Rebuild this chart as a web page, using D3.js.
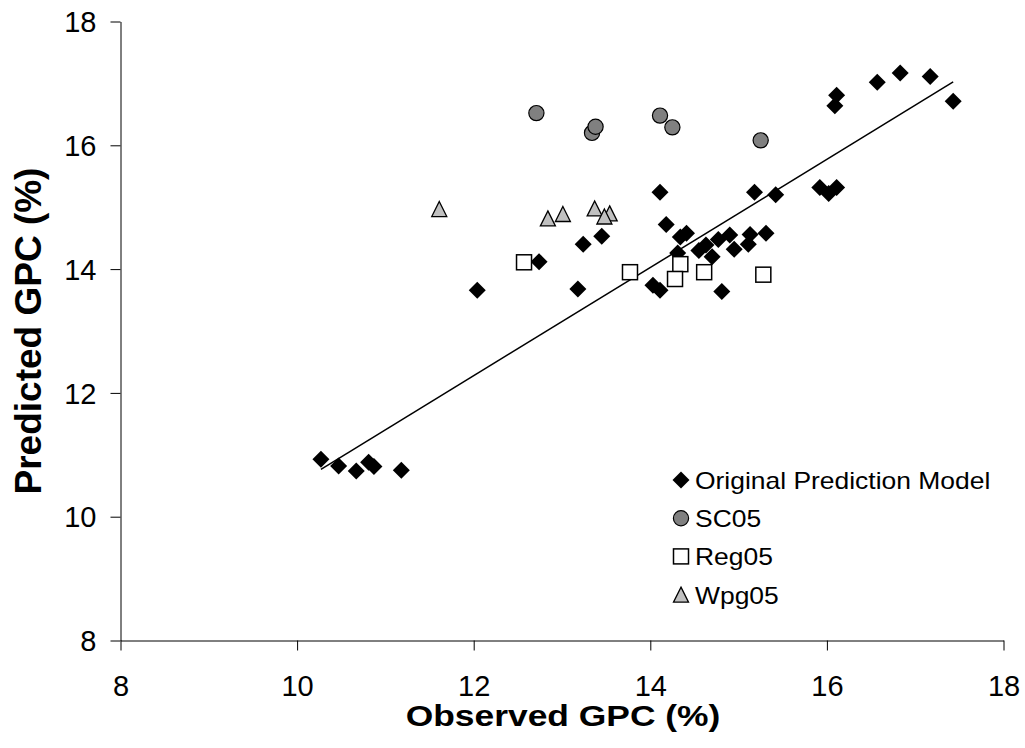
<!DOCTYPE html>
<html>
<head>
    <script type="text/javascript" src="https://cdn.jsdelivr.net/npm/d3@7"></script>
    <style>
    body {
        padding: 0;
        margin: 0;
        background: #fff;
    }
    text {
        font-family: "Liberation Sans", Arial, sans-serif;
        fill: #000;
    }
    </style>
</head>
<body>
    <div id="viz"></div>
    <script type="text/javascript">

    // series: observed (x) vs predicted (y) GPC %
    var origX = [10.27, 10.47, 10.67, 10.81, 10.87, 11.18, 12.04, 12.74, 13.18, 13.24,
                 13.45, 14.11, 14.18, 14.03, 14.11, 14.34, 14.41, 14.31, 14.55, 14.63,
                 14.70, 14.77, 14.90, 14.95, 14.81, 15.11, 15.13, 15.31, 15.18, 15.42,
                 15.92, 16.02, 16.11, 16.11, 16.09, 16.57, 16.83, 17.17, 17.43];
    var origY = [10.93, 10.82, 10.74, 10.88, 10.81, 10.75, 13.66, 14.12, 13.68, 14.40,
                 14.53, 15.24, 14.72, 13.74, 13.66, 14.52, 14.58, 14.26, 14.30, 14.39,
                 14.20, 14.48, 14.55, 14.32, 13.64, 14.40, 14.56, 14.58, 15.24, 15.20,
                 15.32, 15.22, 15.32, 16.81, 16.64, 17.02, 17.17, 17.11, 16.71];

    var sc05X = [12.71, 13.34, 13.38, 14.11, 14.25, 15.25];
    var sc05Y = [16.52, 16.20, 16.30, 16.48, 16.29, 16.08];

    var reg05X = [12.57, 13.77, 14.34, 14.28, 14.61, 15.28];
    var reg05Y = [14.11, 13.95, 14.08, 13.84, 13.95, 13.91];

    var wpg05X = [11.61, 12.84, 13.01, 13.37, 13.54, 13.48];
    var wpg05Y = [14.97, 14.82, 14.89, 14.98, 14.90, 14.85];

    // linear trend of the original model
    var trendX = [10.27, 17.43];
    var trendSlope = 0.874, trendIntercept = 1.79;

    var ticks = [8, 10, 12, 14, 16, 18];
    var legendNames = ["Original Prediction Model", "SC05", "Reg05", "Wpg05"];

    function pts(xs, ys) { return xs.map(function(x, i) { return {x: x, y: ys[i]}; }); }

    var W = 1025, H = 748;
    var x = d3.scaleLinear().domain([8, 18]).range([120.5, 1003.5]);
    var y = d3.scaleLinear().domain([8, 18]).range([640.5, 21.5]);

    var svg = d3.select('#viz').append('svg')
      .attr('width', W).attr('height', H);

    // axes
    var xAxis = svg.append('g')
      .attr('transform', 'translate(0,' + y(8) + ')')
      .call(d3.axisBottom(x).tickValues(ticks).tickSize(10).tickSizeOuter(0).tickPadding(0));
    var yAxis = svg.append('g')
      .attr('transform', 'translate(' + x(8) + ',0)')
      .call(d3.axisLeft(y).tickValues(ticks).tickSize(10).tickSizeOuter(0));

    [xAxis, yAxis].forEach(function(a) {
      a.select('.domain').attr('stroke', '#000').attr('stroke-width', 1);
      a.selectAll('.tick line').attr('stroke', '#000').attr('stroke-width', 1);
      a.selectAll('.tick text').attr('font-size', 29)
        .attr('font-family', '"Liberation Sans", Arial, sans-serif').attr('fill', '#000');
    });
    xAxis.selectAll('.tick text').attr('y', 55).attr('dy', 0);
    yAxis.selectAll('.tick text').attr('x', -24).attr('dy', '0.35em');

    // trend line
    svg.append('line')
      .attr('x1', x(trendX[0])).attr('y1', y(trendSlope * trendX[0] + trendIntercept))
      .attr('x2', x(trendX[1])).attr('y2', y(trendSlope * trendX[1] + trendIntercept))
      .attr('stroke', '#000').attr('stroke-width', 1.5);

    // marker shapes
    function diamond(g, s) {
      g.append('path').attr('d', 'M0,' + (-s) + 'L' + s + ',0L0,' + s + 'L' + (-s) + ',0Z')
        .attr('fill', '#000');
    }
    function circle(g, s) {
      g.append('circle').attr('r', s).attr('fill', '#808080')
        .attr('stroke', '#000').attr('stroke-width', 1.2);
    }
    function square(g, s) {
      g.append('rect').attr('x', -s).attr('y', -s).attr('width', 2 * s).attr('height', 2 * s)
        .attr('fill', '#fff').attr('stroke', '#000').attr('stroke-width', 1.5);
    }
    function triangle(g, s) {
      g.append('path').attr('d', 'M0,' + (-s) + 'L' + s + ',' + s + 'L' + (-s) + ',' + s + 'Z')
        .attr('fill', '#c0c0c0').attr('stroke', '#000').attr('stroke-width', 1.3)
        .attr('stroke-linejoin', 'miter');
    }

    var series = [
      {data: pts(origX, origY), draw: diamond, size: 8.5},
      {data: pts(sc05X, sc05Y), draw: circle, size: 7.6},
      {data: pts(reg05X, reg05Y), draw: square, size: 7.5},
      {data: pts(wpg05X, wpg05Y), draw: triangle, size: 7.5}
    ];

    series.forEach(function(s) {
      svg.append('g').selectAll('g').data(s.data).enter().append('g')
        .attr('transform', function(d) { return 'translate(' + x(d.x) + ',' + y(d.y) + ')'; })
        .each(function() { s.draw(d3.select(this), s.size); });
    });

    // legend
    var legendSize = [8.5, 7.6, 7.5, 7.5];
    var leg = svg.append('g');
    legendNames.forEach(function(name, i) {
      var base = 489 + i * 38.2;
      var m = leg.append('g').attr('transform', 'translate(681,' + (base - 9) + ')');
      series[i].draw(m, legendSize[i]);
      leg.append('text')
        .attr('transform', 'translate(695,' + base + ') scale(1.15,1)')
        .attr('font-size', 23)
        .text(name);
    });

    // axis titles
    svg.append('text')
      .attr('transform', 'translate(563,726) scale(1.18,1)')
      .attr('text-anchor', 'middle')
      .attr('font-size', 30).attr('font-weight', 'bold')
      .text('Observed GPC (%)');

    svg.append('text')
      .attr('transform', 'translate(41,' + ((y(8) + y(18)) / 2) + ') rotate(-90)')
      .attr('text-anchor', 'middle')
      .attr('font-size', 37).attr('font-weight', 'bold')
      .text('Predicted GPC (%)');
    </script>
</body>
</html>
